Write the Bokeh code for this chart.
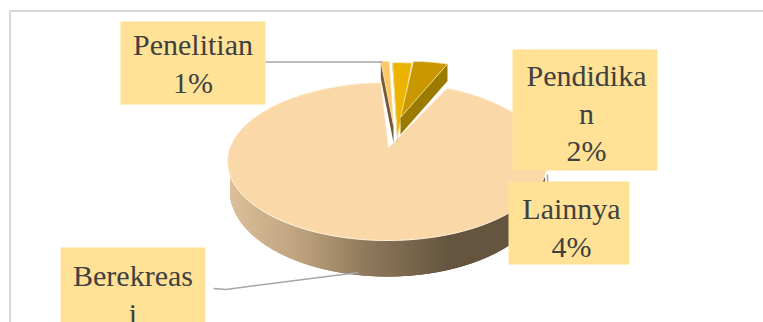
import numpy as np
from bokeh.core.properties import value
from bokeh.embed import file_html
from bokeh.models import Range1d
from bokeh.plotting import figure
from bokeh.resources import INLINE

# Shares of each activity, whole percents as labelled (rounding leaves 99)
categories = ["Berekreasi", "Penelitian", "Pendidikan", "Lainnya"]
shares = [92, 1, 2, 4]
label_lines = [["Berekreas", "i"], ["Penelitian"], ["Pendidika", "n"], ["Lainnya"]]
show_share = [False, True, True, True]

W, H = 763, 322
CX, CY, RX, RY = 387.0, 161.0, 160.0, 79.0   # top face outline
TILT = 0.177                                 # shift of the pie centre caused by perspective
DEG_PER_SHARE = 3.6

# Pulled-out slices: apex position, radial scales, rim thickness
slice_styles = {
    "Penelitian": dict(apex=(393, 125), sx=1.0, sy=1.0, depth=17, top="#fdc966", wall="#75593a", wall_edge=0),
    "Pendidikan": dict(apex=(397, 137), sx=1.15, sy=1.15, depth=6, top="#ecb400", wall="#a98a10", wall_edge=0),
    "Lainnya": dict(apex=(400, 117), sx=1.03, sy=0.87, depth=17, top="#c99700", wall="#9b7a00", wall_edge=-1),
}
box_styles = {
    "Berekreasi": dict(box=(60, 205, 247, 330), cx=132.5, first=275),
    "Penelitian": dict(box=(120, 265, 21, 104), cx=192.5, first=44),
    "Pendidikan": dict(box=(512, 657, 49, 170), cx=586, first=75),
    "Lainnya": dict(box=(508, 629, 181, 264), cx=571, first=208),
}
LINE_STEP = 37.5


def project(deg):
    """Map clockwise angles on the flat disc to page coordinates on the tilted face."""
    t = np.radians(np.asarray(deg, dtype=float))
    x, y = np.sin(t), np.cos(t)
    d = 1 + TILT * y
    return CX + RX * x * np.sqrt(1 - TILT**2) / d, CY - RY * (y + TILT) / d


def lerp_hex(stops, f):
    pos = [s[0] for s in stops]
    rgb = [[int(s[1][i:i + 2], 16) for s in stops] for i in (1, 3, 5)]
    return "#%02x%02x%02x" % tuple(int(round(np.interp(f, pos, c))) for c in rgb)


p = figure(width=W, height=H, x_range=Range1d(0, W), y_range=Range1d(H, 0),
           output_backend="svg", toolbar_location=None, min_border=0,
           background_fill_color="white", border_fill_color="white", outline_line_color=None)
p.axis.visible = False
p.grid.visible = False

# Chart frame
p.line([W, 9.5, 9.5], [10.5, 10.5, H], line_color="#d9d9d9", line_width=2)

# Outer rim of the large slice, shaded left to right
wall_stops = [(227, "#dcc19a"), (300, "#bda27e"), (365, "#90795c"), (450, "#65553f"), (550, "#65553f")]
xs = np.arange(231.0, 544, 1.0)
rim_top = CY + RY * np.sqrt(np.clip(1 - ((xs - CX) / RX) ** 2, 0, 1))
rim_bottom = 190 + 86 * np.sqrt(np.clip(1 - ((xs - CX) / 157.0) ** 2, 0, 1))
rim_colors = [lerp_hex(wall_stops, x) for x in xs]
p.quad(left=xs - 1.5, right=xs + 1.5, top=rim_top - 2, bottom=rim_bottom,
       fill_color=rim_colors, line_color=None)

# Large slice, starting just past the three pulled-out ones
big_start = 26.0
big_span = shares[0] * DEG_PER_SHARE
ang = np.linspace(big_start, big_start + big_span, 240)
ax, ay = project(ang)
hub_x, hub_y = CX + 1, CY - RY * TILT
p.patch(np.r_[hub_x, ax], np.r_[hub_y, ay], fill_color="#fbd8a8", line_color="#fff3e2", line_width=1)

# Pulled-out slices, running clockwise from the first small angle
start = -5.0
for name, share in zip(categories[1:], shares[1:]):
    st = slice_styles[name]
    ang = np.linspace(start, start + share * DEG_PER_SHARE, 16)
    start += share * DEG_PER_SHARE
    ex, ey = project(ang)
    sx = st["apex"][0] + st["sx"] * (ex - hub_x)
    sy = np.maximum(st["apex"][1] + st["sy"] * (ey - hub_y), 61)
    i = st["wall_edge"]
    wx = [st["apex"][0], sx[i], sx[i], st["apex"][0]]
    wy = [st["apex"][1], sy[i], sy[i] + st["depth"], st["apex"][1] + st["depth"]]
    p.patch(wx, wy, fill_color=st["wall"], line_color=None)
    p.patch(np.r_[st["apex"][0], sx], np.r_[st["apex"][1], sy],
            fill_color=st["top"], line_color="#f6e6b0", line_width=0.7)

# Leader lines
leader = dict(line_color="#a6a6a6", line_width=1.5)
p.line([265, 382], [61.5, 61.5], **leader)
p.line([213, 225, 358], [288, 289, 272], **leader)
p.line([547, 547], [174, 182], **leader)

# Label boxes and their text
for name, share, lines, with_share in zip(categories, shares, label_lines, show_share):
    st = box_styles[name]
    l, r, t, b = st["box"]
    p.quad(left=[l], right=[r], top=[t], bottom=[b], fill_color="#ffe296", line_color=None)
    rows = lines + ([f"{share}%"] if with_share else [])
    p.text(x=[st["cx"]] * len(rows), y=[st["first"] + i * LINE_STEP for i in range(len(rows))],
           text=rows, text_font=value("Liberation Serif"), text_font_size="30px",
           text_color="#404040", text_align="center", text_baseline="middle")

open("out.html", "w").write(file_html(p, INLINE))
